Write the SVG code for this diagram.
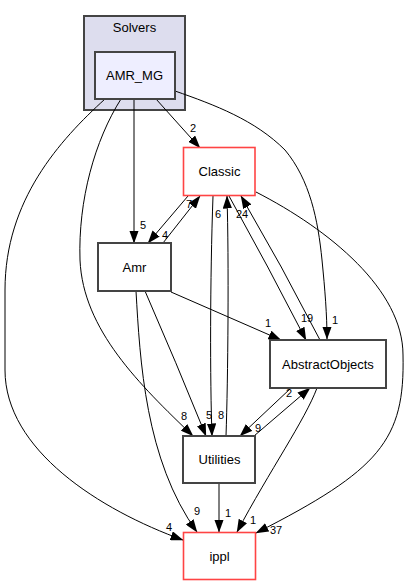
<svg xmlns="http://www.w3.org/2000/svg" width="409" height="585" viewBox="0 0 409 585">
<style>
.nl{font-family:"Liberation Sans",Arial,sans-serif;font-size:13px;text-anchor:middle;fill:#000}
.el{font-family:"Liberation Sans",Arial,sans-serif;font-size:11px;text-anchor:middle;fill:#000}
.e{fill:none;stroke:#000;stroke-width:1;marker-end:url(#ah)}
.g{fill:#fff;stroke:#444;stroke-width:2}
.r{fill:#fff;stroke:#ff4444;stroke-width:1.6}
</style>
<defs>
<marker id="ah" markerUnits="userSpaceOnUse" viewBox="0 0 13 9.4" markerWidth="13" markerHeight="9.4" refX="12.5" refY="4.7" orient="auto">
<path d="M0,0 L13,4.7 L0,9.4 z" fill="#000"/>
</marker>
</defs>
<rect width="409" height="585" fill="#fff"/>
<g id="cluster_Solvers">
<rect x="84" y="16" width="101" height="94" fill="#ddddee" stroke="#444" stroke-width="2"/>
<text class="nl" x="134.5" y="32">Solvers</text>
</g>
<g id="connectors">
<path class="e" d="M156,99 L200,148"/>
<path class="e" d="M134,99 L134,243"/>
<path class="e" d="M175,91 C215,105 255,120 285,150 C310,180 318,220 322,260 C325,290 327,315 327,339"/>
<path class="e" d="M121,99 C95,140 78,200 80,260 C83,330 140,385 193,436"/>
<path class="e" d="M105,99 C60,140 5,200 5,290 L5,370 C5,450 100,510 183,540"/>
<path class="e" d="M188,196 L148,243"/>
<path class="e" d="M163,243 L200,196"/>
<path class="e" d="M213,196 C210,280 210,380 212,436"/>
<path class="e" d="M226,436 C228,380 229,260 227,196"/>
<path class="e" d="M229,196 Q268,266 306,340"/>
<path class="e" d="M320,340 Q282,266 241,196"/>
<path class="e" d="M256,192 C330,230 403,290 403,355 C405,440 380,470 256,533"/>
<path class="e" d="M171,292 L281,340"/>
<path class="e" d="M145,291 Q176,362 206,436"/>
<path class="e" d="M136,291 C140,360 145,460 197,532"/>
<path class="e" d="M291,388 L240,436"/>
<path class="e" d="M254,436 L310,388"/>
<path class="e" d="M317,388 C305,420 270,470 237,532"/>
<path class="e" d="M219,483 L219,532" stroke="#444" stroke-width="2"/>
<text class="el" x="193" y="132">2</text>
<text class="el" x="143" y="229">5</text>
<text class="el" x="335" y="324">1</text>
<text class="el" x="184" y="420">8</text>
<text class="el" x="169" y="531">4</text>
<text class="el" x="165" y="239">4</text>
<text class="el" x="189" y="208">7</text>
<text class="el" x="221" y="419">8</text>
<text class="el" x="218" y="218">6</text>
<text class="el" x="307" y="322">19</text>
<text class="el" x="242" y="218">24</text>
<text class="el" x="276" y="534">37</text>
<text class="el" x="268" y="327">1</text>
<text class="el" x="209" y="419">5</text>
<text class="el" x="197" y="515">9</text>
<text class="el" x="258" y="432">9</text>
<text class="el" x="289" y="397">2</text>
<text class="el" x="253" y="524">1</text>
<text class="el" x="228" y="517">1</text>
</g>
<g id="node_AMR_MG">
<rect x="95" y="52" width="80" height="47" fill="#eeeeff" stroke="#444" stroke-width="2"/>
<text class="nl" x="134.5" y="80">AMR_MG</text>
</g>
<g id="node_Classic">
<rect class="r" x="183.5" y="147.5" width="71.5" height="48"/>
<text class="nl" x="219.5" y="176">Classic</text>
</g>
<g id="node_Amr">
<rect class="g" x="98" y="243" width="73" height="48"/>
<text class="nl" x="134.5" y="271.5">Amr</text>
</g>
<g id="node_AbstractObjects">
<rect class="g" x="270" y="340" width="116" height="48"/>
<text class="nl" x="328" y="368.5">AbstractObjects</text>
</g>
<g id="node_Utilities">
<rect class="g" x="183" y="436" width="72" height="47"/>
<text class="nl" x="219.5" y="464">Utilities</text>
</g>
<g id="node_ippl">
<rect class="r" x="183.5" y="532.5" width="72" height="47"/>
<text class="nl" x="219.5" y="560.5">ippl</text>
</g>
</svg>
